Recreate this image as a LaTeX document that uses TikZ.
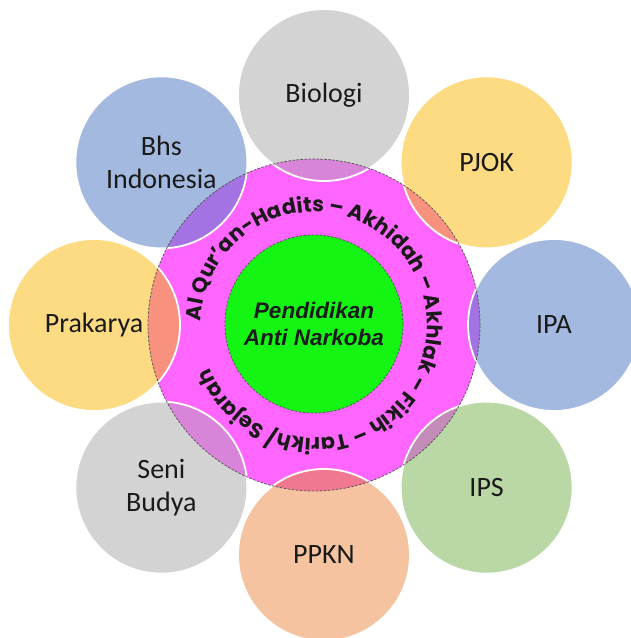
\documentclass[tikz,border=0pt]{standalone}
\usepackage{fontspec}
\setmainfont{Carlito}
\newfontfamily\ringfont{Poppins}
\newfontfamily\corefont{Liberation Sans}
\usepackage{xcolor}
\usetikzlibrary{decorations.text}

\definecolor{ring}{HTML}{FF66FF}
\definecolor{edgegrey}{HTML}{5A5A5A}
\definecolor{coregreen}{HTML}{14F514}
\definecolor{greyc}{HTML}{D3D3D3}
\definecolor{greymix}{HTML}{D884D8}
\definecolor{gold}{HTML}{FDDB82}
\definecolor{goldmix}{HTML}{F8917E}
\definecolor{sky}{HTML}{A4B9DF}
\definecolor{skymix}{HTML}{A373E3}
\definecolor{leaf}{HTML}{BAD7A6}
\definecolor{leafmix}{HTML}{C48CB8}
\definecolor{peach}{HTML}{F5C39F}
\definecolor{peachmix}{HTML}{F07890}
\definecolor{ink}{HTML}{1A1A1A}

\begin{document}
\begin{tikzpicture}
      [ x=1pt, y=1pt,
        subject/.style={circle, minimum size=172pt, inner sep=0pt,
          draw=white, line width=1.8pt, align=center, text=ink,
          font=\fontsize{28}{33}\selectfont},
        core/.style={circle, minimum size=178pt, inner sep=0pt,
          fill=coregreen, draw=edgegrey, line width=0.8pt,
          dash pattern=on 2.5pt off 1.5pt, align=center, text=ink,
          font=\corefont\bfseries\itshape\fontsize{22.5}{27}\selectfont},
        ringedge/.style={draw=edgegrey, line width=0.8pt,
          dash pattern=on 2.5pt off 1.5pt}
      ]
      \useasboundingbox (0,0) rectangle (631,638);
      \fill[white] (0,0) rectangle (631,638);
      \coordinate (mid) at (324,313);
      \coordinate (hub) at (314,313);

      \fill[ring] (hub) circle[radius=166];

      % eight subjects round the ring
      \foreach \ang/\key/\txt/\col/\mix in
        {90/bio/Biologi/greyc/greymix, 45/pjok/PJOK/gold/goldmix,
         0/ipa/IPA/sky/skymix, -45/ips/IPS/leaf/leafmix,
         -90/ppkn/PPKN/peach/peachmix, -135/seni/{Seni\\Budya}/greyc/greymix,
         180/prak/Prakarya/gold/goldmix, 135/bhs/{Bhs\\Indonesia}/sky/skymix}
      {
        \path (mid) ++(\ang:230) coordinate (\key-c);
        \fill[\col] (\key-c) circle[radius=86];
        \begin{scope}
          \clip (hub) circle[radius=166];
          \fill[\mix] (\key-c) circle[radius=86];
        \end{scope}
        \node[subject] (\key) at (\key-c) {\txt};
      }

      \draw[ringedge] (hub) circle[radius=166];

      \node[core] (core) at (314,314) {Pendidikan\\Anti Narkoba};

      \path[decorate, decoration={text along path, text align=left,
          text={|\ringfont\bfseries\fontsize{21}{21}\selectfont\color{ink}|Al Qur’an-Hadits – Akhidah – Akhlak – Fikih – Tarikh/ Sejarah}}]
        ([shift={(178:113)}]hub) arc[start angle=178, end angle=-166, radius=113];
\end{tikzpicture}
\end{document}
